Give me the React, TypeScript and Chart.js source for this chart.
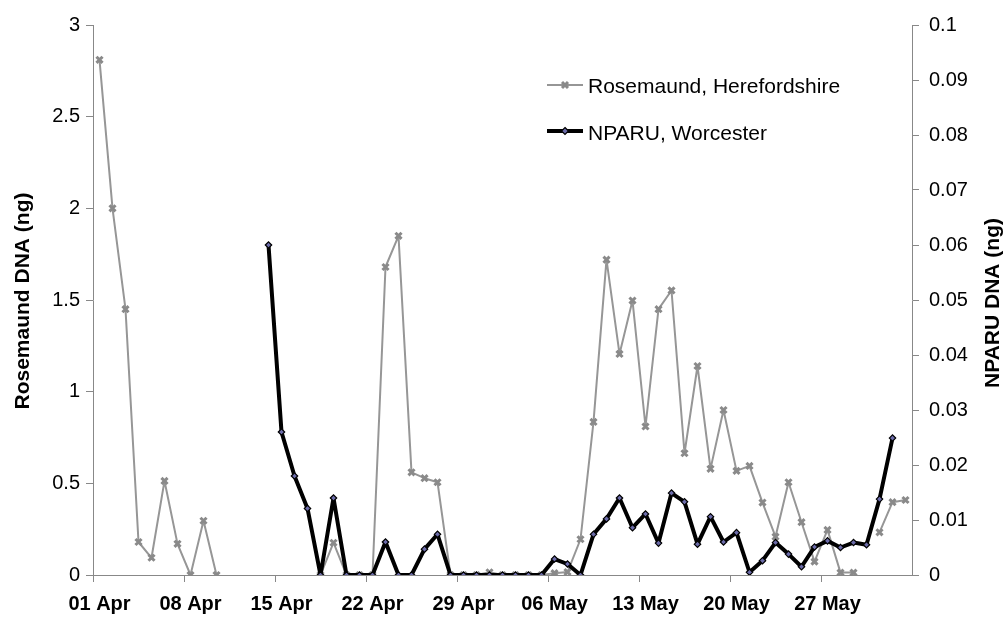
import React, { useEffect, useRef } from "react";
import { Chart, registerables } from "chart.js";

Chart.register(...registerables);

const categories: string[] = [
  "01 Apr", "02 Apr", "03 Apr", "04 Apr", "05 Apr", "06 Apr", "07 Apr", "08 Apr", "09 Apr", "10 Apr",
  "11 Apr", "12 Apr", "13 Apr", "14 Apr", "15 Apr", "16 Apr", "17 Apr", "18 Apr", "19 Apr", "20 Apr",
  "21 Apr", "22 Apr", "23 Apr", "24 Apr", "25 Apr", "26 Apr", "27 Apr", "28 Apr", "29 Apr", "30 Apr",
  "01 May", "02 May", "03 May", "04 May", "05 May", "06 May", "07 May", "08 May", "09 May", "10 May",
  "11 May", "12 May", "13 May", "14 May", "15 May", "16 May", "17 May", "18 May", "19 May", "20 May",
  "21 May", "22 May", "23 May", "24 May", "25 May", "26 May", "27 May", "28 May", "29 May", "30 May",
  "31 May", "01 Jun", "02 Jun",
];

const rosemaund: (number | null)[] = [
  2.81, 2.0, 1.45, 0.18, 0.094, 0.513, 0.17, 0, 0.296, 0,
  null, null, null, null, null, null, null, 0, 0.176, 0,
  0, 0, 1.68, 1.85, 0.56, 0.528, 0.506, 0, 0, 0,
  0.015, 0, 0, 0, 0, 0.01, 0.016, 0.195, 0.835, 1.72,
  1.206, 1.497, 0.81, 1.45, 1.552, 0.664, 1.14, 0.579, 0.9, 0.568,
  0.595, 0.395, 0.209, 0.506, 0.288, 0.073, 0.246, 0.013, 0.013, null,
  0.233, 0.397, 0.409,
];

const nparu: (number | null)[] = [
  null, null, null, null, null, null, null, null, null, null,
  null, null, null, 0.06, 0.026, 0.018, 0.0121, 0, 0.014, 0,
  0, 0, 0.006, 0, 0, 0.0047, 0.0074, 0, 0, 0,
  0, 0, 0, 0, 0, 0.0029, 0.002, 0, 0.0074, 0.0102,
  0.014, 0.0086, 0.0111, 0.0058, 0.0149, 0.0133, 0.0056, 0.0106, 0.006, 0.0077,
  0.0005, 0.0026, 0.0059, 0.0038, 0.0015, 0.0051, 0.0062, 0.005, 0.0059, 0.0055,
  0.0138, 0.0249, null,
];

const seriesNames = ["Rosemaund, Herefordshire", "NPARU, Worcester"];
const leftTitle = "Rosemaund DNA (ng)";
const rightTitle = "NPARU DNA (ng)";
const leftRange = { min: 0, max: 3, step: 0.5 };
const rightRange = { min: 0, max: 0.1, step: 0.01 };
const labelEvery = 7;

const FONT = "'Liberation Sans', Arial, sans-serif";
const AXIS = "#888888";
const GRAY_LINE = "#969696";
const GRAY_MARK = "#8a8a8a";
const DIAMOND_FILL = "#6b6ba8";

const fmt = (v: number) => String(parseFloat(Number(v).toFixed(4)));

const overlayPlugin = {
  id: "overlay",
  afterDraw(chart: any) {
    const ctx: CanvasRenderingContext2D = chart.ctx;
    const area = chart.chartArea;
    const midY = (area.top + area.bottom) / 2;
    ctx.save();
    ctx.fillStyle = "#000";
    ctx.font = `bold 21px ${FONT}`;
    ctx.textAlign = "center";
    ctx.textBaseline = "middle";
    ctx.save();
    ctx.translate(23, midY + 1);
    ctx.rotate(-Math.PI / 2);
    ctx.fillText(leftTitle, 0, 0);
    ctx.restore();
    ctx.save();
    ctx.translate(993, midY + 3);
    ctx.rotate(-Math.PI / 2);
    ctx.fillText(rightTitle, 0, 0);
    ctx.restore();

    const lx0 = 547;
    const lx1 = 583;
    const mx = 565;
    ctx.strokeStyle = GRAY_LINE;
    ctx.lineWidth = 2;
    ctx.beginPath();
    ctx.moveTo(lx0, 85);
    ctx.lineTo(lx1, 85);
    ctx.stroke();
    ctx.strokeStyle = GRAY_MARK;
    ctx.lineWidth = 3;
    const r = 3;
    ctx.beginPath();
    ctx.moveTo(mx - r, 85 - r);
    ctx.lineTo(mx + r, 85 + r);
    ctx.moveTo(mx + r, 85 - r);
    ctx.lineTo(mx - r, 85 + r);
    ctx.stroke();
    ctx.strokeStyle = "#000";
    ctx.lineWidth = 4;
    ctx.beginPath();
    ctx.moveTo(lx0, 131);
    ctx.lineTo(lx1, 131);
    ctx.stroke();
    ctx.fillStyle = DIAMOND_FILL;
    ctx.strokeStyle = "#000";
    ctx.lineWidth = 1.2;
    ctx.beginPath();
    ctx.moveTo(mx, 131 - 3.5);
    ctx.lineTo(mx + 3.5, 131);
    ctx.lineTo(mx, 131 + 3.5);
    ctx.lineTo(mx - 3.5, 131);
    ctx.closePath();
    ctx.fill();
    ctx.stroke();

    ctx.fillStyle = "#000";
    ctx.font = `21px ${FONT}`;
    ctx.textAlign = "left";
    ctx.textBaseline = "alphabetic";
    ctx.fillText(seriesNames[0], 588, 92.5);
    ctx.fillText(seriesNames[1], 588, 139.5);
    ctx.restore();
  },
};

export default function App() {
  const canvasRef = useRef<HTMLCanvasElement | null>(null);

  useEffect(() => {
    document.body.style.margin = "0";
    const canvas = canvasRef.current;
    if (!canvas) return;
    const chart = new Chart(canvas, {
      type: "line",
      data: {
        labels: categories,
        datasets: [
          {
            label: seriesNames[0],
            data: rosemaund,
            yAxisID: "y",
            borderColor: GRAY_LINE,
            borderWidth: 2,
            borderJoinStyle: "round",
            pointStyle: "crossRot",
            pointRadius: 4.3,
            pointBorderWidth: 3,
            pointBorderColor: GRAY_MARK,
            pointBackgroundColor: GRAY_MARK,
            spanGaps: false,
            tension: 0,
            order: 2,
          },
          {
            label: seriesNames[1],
            data: nparu,
            yAxisID: "y2",
            borderColor: "#000000",
            borderWidth: 4,
            borderJoinStyle: "round",
            borderCapStyle: "round",
            pointStyle: "rectRot",
            pointRadius: 3.2,
            pointBorderWidth: 1.2,
            pointBorderColor: "#000000",
            pointBackgroundColor: DIAMOND_FILL,
            spanGaps: false,
            tension: 0,
            order: 1,
          },
        ],
      },
      options: {
        responsive: false,
        animation: false,
        devicePixelRatio: 1,
        layout: { padding: { top: 25, left: 0, right: 0, bottom: 0 } },
        plugins: {
          legend: { display: false },
          tooltip: { enabled: false },
        },
        scales: {
          x: {
            type: "category",
            offset: true,
            grid: {
              display: true,
              offset: true,
              drawOnChartArea: false,
              drawTicks: true,
              tickLength: 7,
              color: (c: any) => (c.index % labelEvery === 0 ? AXIS : "rgba(0,0,0,0)"),
            },
            border: { display: true, color: AXIS, width: 1 },
            ticks: {
              autoSkip: false,
              maxRotation: 0,
              minRotation: 0,
              padding: 10,
              color: "#000",
              font: { family: FONT, size: 20, weight: "bold" },
              callback: (_v: any, i: number) => (i % labelEvery === 0 ? categories[i] : ""),
            },
            afterFit: (s: any) => {
              s.height = 44;
            },
          },
          y: {
            type: "linear",
            position: "left",
            min: leftRange.min,
            max: leftRange.max,
            grid: {
              display: true,
              drawOnChartArea: false,
              drawTicks: true,
              tickLength: 7,
              color: AXIS,
            },
            border: { display: true, color: AXIS, width: 1 },
            ticks: {
              stepSize: leftRange.step,
              padding: 6,
              color: "#000",
              font: { family: FONT, size: 20 },
              callback: (v: any) => fmt(v),
            },
            afterFit: (s: any) => {
              s.width = 93;
            },
          },
          y2: {
            type: "linear",
            position: "right",
            min: rightRange.min,
            max: rightRange.max,
            grid: {
              display: true,
              drawOnChartArea: false,
              drawTicks: true,
              tickLength: 7,
              color: AXIS,
            },
            border: { display: true, color: AXIS, width: 1 },
            ticks: {
              stepSize: rightRange.step,
              padding: 10,
              color: "#000",
              font: { family: FONT, size: 20 },
              callback: (v: any) => fmt(v),
            },
            afterFit: (s: any) => {
              s.width = 93;
            },
          },
        },
      } as any,
      plugins: [overlayPlugin],
    });
    return () => {
      chart.destroy();
    };
  }, []);

  return (
    <div style={{ position: "absolute", left: 0, top: 0, width: 1005, height: 619, background: "#fff" }}>
      <canvas ref={canvasRef} width={1005} height={619} style={{ width: 1005, height: 619, display: "block" }} />
    </div>
  );
}
